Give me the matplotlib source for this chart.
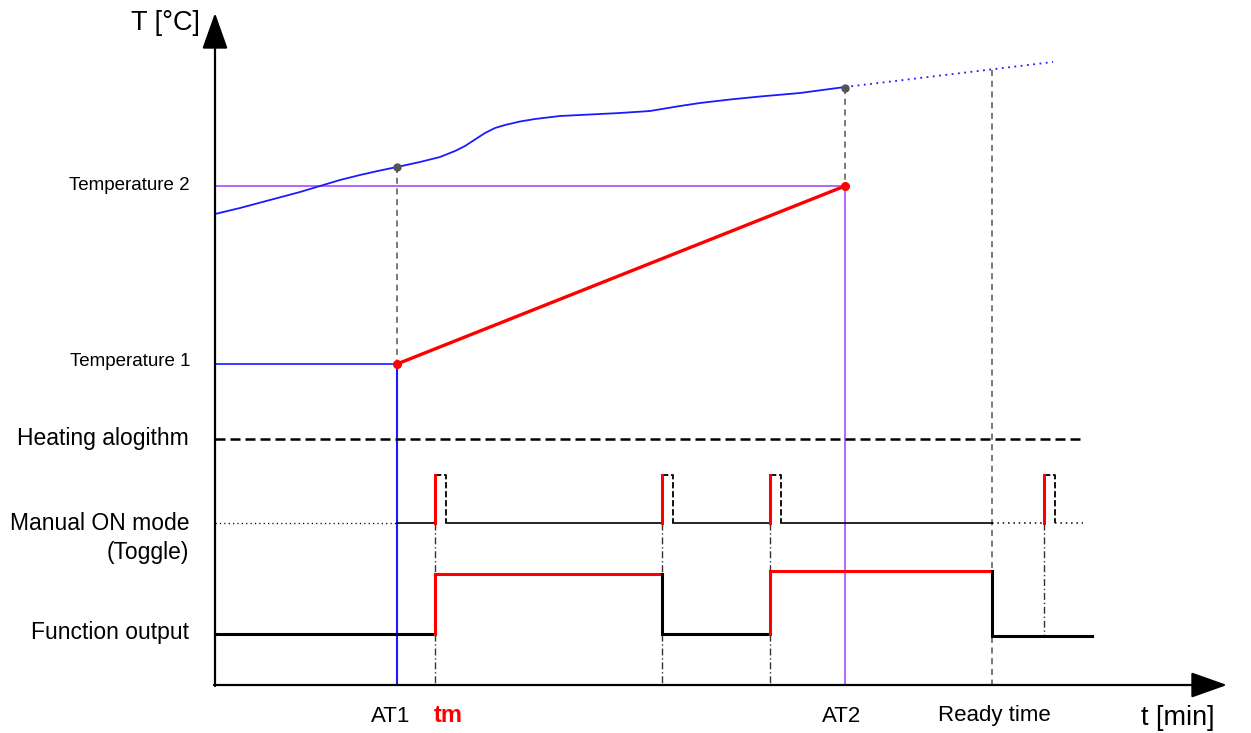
import matplotlib
matplotlib.use("Agg")
import matplotlib.pyplot as plt

plt.rcParams['font.family'] = ['Liberation Sans', 'DejaVu Sans']

# ---- data (time axis -> x, temperature / signal level -> y, in drawing units) ----
# Measured temperature curve
curve_t = [215, 240, 270, 300, 320, 340, 360, 380, 397, 420, 440, 455, 465, 475, 485, 495, 505,
           520, 535, 560, 590, 620, 650, 680, 700, 730, 760, 800, 845]
curve_T = [214, 208, 200, 192, 186, 180, 175, 170.5, 167, 162, 157, 151, 146, 139.5, 133, 128, 125,
           121.5, 119, 116, 114.5, 113, 111, 106, 103, 99.5, 96.5, 93, 87]
# Forecast (dotted) part
forecast_t = [845, 1053]
forecast_T = [87, 62]

# Key times
t_AT1, t_tm, t_AT2, t_ready = 397, 435, 845, 992
toggle_times = [435, 662, 770, 1044]
pulse_width = 11

# Temperature levels
temp1, temp2 = 364, 186
curve_at_AT1, curve_at_AT2 = 167, 88

# Signal levels
heat_level = 439
manual_base, manual_top = 523, 475
out_low = [634, 634, 636]
out_high = [574, 571]

x_axis_y, y_axis_x = 685, 215
t_end = 1083
out_end = 1092

y_labels = ["Temperature 2", "Temperature 1"]
row_labels = ["Heating alogithm", "Manual ON mode\n(Toggle)", "Function output"]
x_labels = ["AT1", "tm", "AT2", "Ready time"]

BLUE = '#1a1aff'
PURPLE = '#a64dff'
RED = '#ff0000'
GREY = '#555555'

fig = plt.figure(figsize=(12.51, 7.33), dpi=100)
ax = fig.add_axes([0, 0, 1, 1])
ax.set_xlim(0, 1251)
ax.set_ylim(733, 0)
ax.axis('off')

# Axes with arrows
ax.annotate('', xy=(y_axis_x, 13), xytext=(y_axis_x, x_axis_y + 1),
            arrowprops=dict(arrowstyle='-|>,head_length=0.9,head_width=0.32', mutation_scale=25,
                            lw=1.6, color='black', shrinkA=0, shrinkB=0))
ax.annotate('', xy=(1227, x_axis_y), xytext=(y_axis_x - 1, x_axis_y),
            arrowprops=dict(arrowstyle='-|>,head_length=0.9,head_width=0.32', mutation_scale=25,
                            lw=1.6, color='black', shrinkA=0, shrinkB=0))
ax.text(165, 23, "T [°C]", fontsize=19.5, ha='center', va='center')
ax.text(1178, 718, "t [min]", fontsize=19.5, ha='center', va='center')

# Temperature level lines
ax.plot([y_axis_x, t_AT2], [temp2, temp2], color=PURPLE, lw=1.2)
ax.plot([t_AT2, t_AT2], [temp2, x_axis_y], color=PURPLE, lw=1.2)
ax.plot([y_axis_x, t_AT1], [temp1, temp1], color=BLUE, lw=1.2)
ax.plot([t_AT1, t_AT1], [temp1, x_axis_y], color=BLUE, lw=1.5)

# Grey dashed verticals
ax.plot([t_AT1, t_AT1], [curve_at_AT1, temp1], color=GREY, lw=1.1, ls=(0, (4, 3)))
ax.plot([t_AT2, t_AT2], [curve_at_AT2, temp2], color=GREY, lw=1.1, ls=(0, (4, 3)))
ax.plot([t_ready, t_ready], [70, x_axis_y], color=GREY, lw=1.1, ls=(0, (4, 3)))

# Temperature curve
ax.plot(curve_t, curve_T, color=BLUE, lw=1.3, solid_capstyle='round', solid_joinstyle='round')
ax.plot(forecast_t, forecast_T, color=BLUE, lw=1.3, ls=(0, (1, 2.5)))
ax.plot([t_AT1, t_AT2], [curve_at_AT1, curve_at_AT2], 'o', color=GREY, ms=5, zorder=5)

# Red ramp
ax.plot([t_AT1, t_AT2], [temp1, temp2], color=RED, lw=2.4, zorder=4)
ax.plot([t_AT1, t_AT2], [temp1, temp2], 'o', color=RED, ms=5.5, zorder=5)

ax.text(190, temp2, y_labels[0], fontsize=13.5, ha='right', va='center')
ax.text(190, temp1 - 2, y_labels[1], fontsize=13.5, ha='right', va='center')

# Heating algorithm
ax.plot([y_axis_x, t_end], [heat_level, heat_level], color='black', lw=1.8, ls=(0, (4, 2)))

# Manual ON mode (toggle)
ax.plot([y_axis_x, t_AT1], [manual_base, manual_base], color='black', lw=0.9, ls=(0, (1, 2.5)))
seg_x = [t_AT1] + [t + pulse_width for t in toggle_times[:3]]
seg_end = toggle_times[:3] + [t_ready]
for a, b in zip(seg_x, seg_end):
    ax.plot([a, b], [manual_base, manual_base], color='black', lw=1.2)
ax.plot([t_ready, toggle_times[3]], [manual_base, manual_base], color='black', lw=1.1, ls=(0, (1, 2.5)))
ax.plot([toggle_times[3] + pulse_width, t_end], [manual_base, manual_base], color='black', lw=1.1,
        ls=(0, (1, 2.5)))
for t in toggle_times:
    ax.plot([t, t], [manual_base, manual_top], color=RED, lw=2.2, zorder=4)
    ax.plot([t, t + pulse_width, t + pulse_width], [manual_top, manual_top, manual_base],
            color='black', lw=1.3, ls=(0, (3.5, 1.5)))

# Dash-dot guide lines
for t in toggle_times[:3]:
    ax.plot([t, t], [manual_base, x_axis_y], color='#333333', lw=1.0, ls=(0, (5, 2, 1, 2)))
ax.plot([toggle_times[3], toggle_times[3]], [manual_base, out_low[2]], color='#333333', lw=1.0,
        ls=(0, (5, 2, 1, 2)))

# Function output
lw_out = 2.2
ax.plot([y_axis_x, toggle_times[0]], [out_low[0], out_low[0]], color='black', lw=lw_out)
ax.plot([toggle_times[0], toggle_times[0], toggle_times[1]], [out_low[0], out_high[0], out_high[0]],
        color=RED, lw=lw_out, solid_joinstyle='miter')
ax.plot([toggle_times[1], toggle_times[1], toggle_times[2]], [out_high[0], out_low[1], out_low[1]],
        color='black', lw=lw_out, solid_joinstyle='miter')
ax.plot([toggle_times[2], toggle_times[2], t_ready], [out_low[1], out_high[1], out_high[1]],
        color=RED, lw=lw_out, solid_joinstyle='miter')
ax.plot([t_ready, t_ready, out_end], [out_high[1], out_low[2], out_low[2]],
        color='black', lw=lw_out, solid_joinstyle='miter')

# Row labels
ax.text(189, heat_level, row_labels[0], fontsize=16.5, ha='right', va='center')
ax.text(189, 538, row_labels[1], fontsize=16.5, ha='right', va='center', linespacing=1.35,
        multialignment='right')
ax.text(189, 632, row_labels[2], fontsize=16.5, ha='right', va='center')

# X labels
label_y = 716
ax.text(391, label_y, x_labels[0], fontsize=16, ha='center', va='center')
ax.text(448, label_y, x_labels[1], fontsize=17, ha='center', va='center', color=RED, fontweight='bold')
ax.text(842, label_y, x_labels[2], fontsize=16, ha='center', va='center')
ax.text(994, label_y, x_labels[3], fontsize=16, ha='center', va='center')

fig.savefig("out.png", dpi=100)
